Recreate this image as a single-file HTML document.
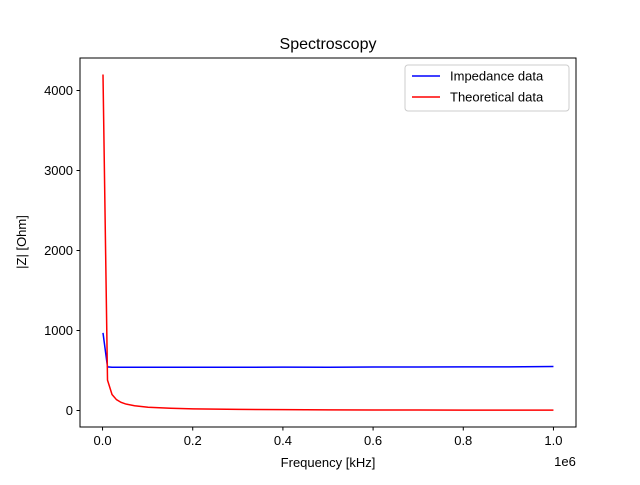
<!DOCTYPE html>
<html><head><meta charset="utf-8"><style>
body{margin:0;background:#fff}
svg text{font-family:"Liberation Sans","DejaVu Sans",sans-serif;fill:#000}
</style></head><body>
<svg id="chart" width="640" height="480">
<rect width="640" height="480" fill="#fff"/>
<text x="328" y="49" font-size="16" text-anchor="middle">Spectroscopy</text>
<g id="ticks"></g>
<g id="series"></g>
<rect x="80" y="58" width="496" height="369" fill="none" stroke="#000" stroke-width="1"/>
<text x="328" y="467" font-size="13" text-anchor="middle">Frequency [kHz]</text>
<text x="565" y="466" font-size="13" text-anchor="middle">1e6</text>
<text transform="translate(26,242) rotate(-90)" font-size="13" text-anchor="middle">|Z| [Ohm]</text>
<g>
<rect x="405" y="65" width="164" height="46" rx="3" fill="#fff" fill-opacity="0.8" stroke="#ccc"/>
<line x1="412" y1="76" x2="440" y2="76" stroke="blue" stroke-width="1.5"/>
<text x="450" y="80.5" font-size="13">Impedance data</text>
<line x1="412" y1="97" x2="440" y2="97" stroke="red" stroke-width="1.5"/>
<text x="450" y="101.5" font-size="13">Theoretical data</text>
</g>
</svg>
<script>
const freqs=[1000,11000,21000,31000,41000,51000,71000,101000,151000,201000,301000,401000,501000,601000,701000,801000,901000,1000000];
const theoretical=[4200,380,200,135,102,82,59,41,28,21,14,10.5,8.4,7,6,5.2,4.7,4.2];
const impedance=[970,545,540,540,541,540,541,540,540,541,541,542,541,543,544,545,546,550];
const xTicks=[0,0.2e6,0.4e6,0.6e6,0.8e6,1.0e6];
const xTickLabels=["0.0","0.2","0.4","0.6","0.8","1.0"];
const yTicks=[0,1000,2000,3000,4000];
const yTickLabels=["0","1000","2000","3000","4000"];
const NS="http://www.w3.org/2000/svg";
const xs=v=>80+(v+0.05e6)/1.1e6*496;
const ys=v=>410.5-v*0.08;
const tg=document.getElementById('ticks');
xTicks.forEach((t,i)=>{
  const l=document.createElementNS(NS,'line');
  l.setAttribute('x1',xs(t));l.setAttribute('x2',xs(t));l.setAttribute('y1',427);l.setAttribute('y2',430.5);l.setAttribute('stroke','#000');
  
  
  tg.appendChild(l);
  const tx=document.createElementNS(NS,'text');
  tx.setAttribute('x',xs(t));tx.setAttribute('y',445);tx.setAttribute('font-size','13');tx.setAttribute('text-anchor','middle');
  tx.textContent=xTickLabels[i];
  
  
  tg.appendChild(tx);
});
yTicks.forEach((t,i)=>{
  const l=document.createElementNS(NS,'line');
  l.setAttribute('x1',76.5);l.setAttribute('x2',80);l.setAttribute('y1',ys(t));l.setAttribute('y2',ys(t));l.setAttribute('stroke','#000');
  
  
  tg.appendChild(l);
  const tx=document.createElementNS(NS,'text');
  tx.setAttribute('x',73);tx.setAttribute('y',ys(t)+4.5);tx.setAttribute('font-size','13');tx.setAttribute('text-anchor','end');
  tx.textContent=yTickLabels[i];
  
  
  tg.appendChild(tx);
});
const sg=document.getElementById('series');
function line(vals,color,name){
  const p=document.createElementNS(NS,'polyline');
  p.setAttribute('points',vals.map((v,i)=>xs(freqs[i])+','+ys(v)).join(' '));
  p.setAttribute('fill','none');p.setAttribute('stroke',color);p.setAttribute('stroke-width','1.5');
  
  
  sg.appendChild(p);
}
line(impedance,'blue','impedance-line');
line(theoretical,'red','theoretical-line');
</script>
</body></html>
